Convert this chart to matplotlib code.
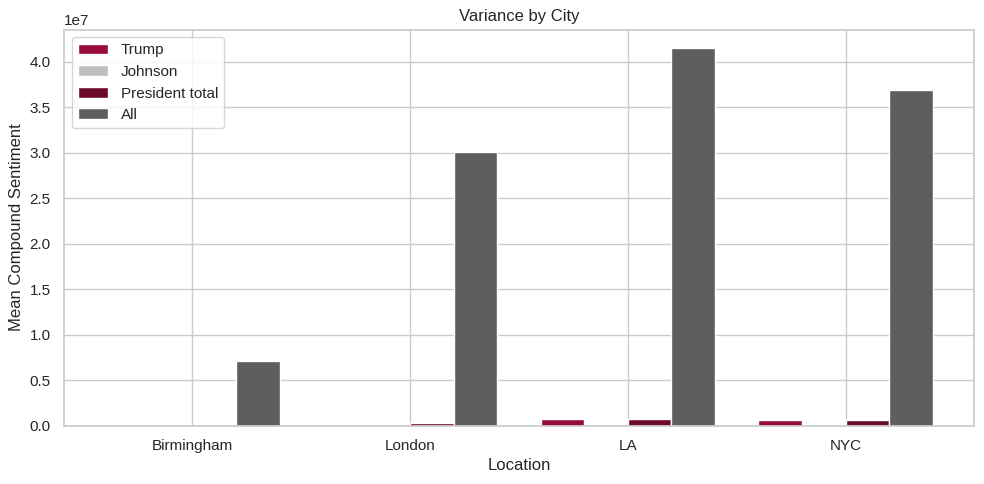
import matplotlib
matplotlib.use("Agg")
import matplotlib.pyplot as plt
import seaborn as sns
import numpy as np

sns.set_theme(style="whitegrid")
plt.rcParams['font.family'] = ['Liberation Sans', 'DejaVu Sans']

cities = ["Birmingham", "London", "LA", "NYC"]
series_names = ["Trump", "Johnson", "President total", "All"]
trump = [0.0, 0.0, 0.72e6, 0.58e6]
johnson = [0.0, 0.0, 0.0, 0.0]
president_total = [0.0, 0.25e6, 0.72e6, 0.58e6]
all_vals = [7.1e6, 30.05e6, 41.45e6, 36.9e6]
colors = ["#990c3a", "#bebebe", "#6b0a2a", "#5e5e5c"]

fig, ax = plt.subplots(figsize=(9.84, 4.84), dpi=100)
x = np.arange(len(cities))
width = 0.2
for i, (name, vals, c) in enumerate(zip(series_names,
                                        [trump, johnson, president_total, all_vals],
                                        colors)):
    ax.bar(x + (i - 1.5) * width, vals, width, label=name, color=c)
ax.set_xticks(x)
ax.set_xticklabels(cities)
ax.set_title("Variance by City")
ax.set_xlabel("Location")
ax.set_ylabel("Mean Compound Sentiment")
ax.legend(loc="upper left")
fig.subplots_adjust(left=64/984, right=974/984, top=1-29.5/484, bottom=1-425.5/484)
fig.savefig("out.png", dpi=100)
